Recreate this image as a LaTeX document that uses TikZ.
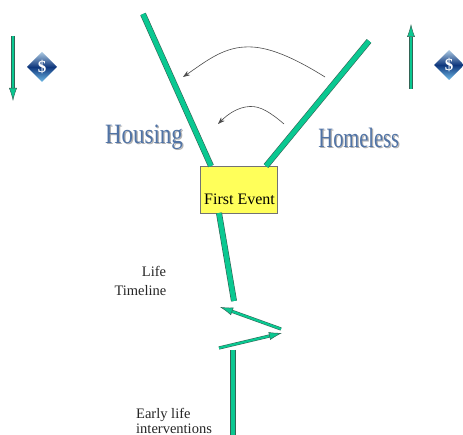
\documentclass[tikz,border=0pt]{standalone}
\usepackage{fontspec}
\setmainfont{Liberation Serif}
\usetikzlibrary{arrows.meta}
\definecolor{barteal}{RGB}{10,200,145}
\definecolor{baredge}{RGB}{50,100,85}
\definecolor{boxyellow}{RGB}{255,255,90}
\definecolor{wordblue}{RGB}{80,115,165}
\definecolor{navy}{RGB}{15,55,125}
\definecolor{skyb}{RGB}{110,185,230}
\definecolor{paleb}{RGB}{170,200,225}
\tikzset{
  x=1pt,y=-1pt,
  bar/.style={draw=baredge,line width=0.6pt,double=barteal,double distance=4.8pt},
  thinbar/.style={draw=baredge,line width=0.5pt,double=barteal,double distance=2.2pt,
    -{Latex[length=13pt,width=8pt,fill=barteal]}},
  curve/.style={draw=black!70,line width=0.6pt,-{Stealth[length=7pt,width=5pt]}},
  caption/.style={font=\fontsize{14.5}{16}\selectfont,text=black!85,inner sep=0pt},
  bigword/.style={font=\fontsize{28}{30}\selectfont,inner sep=0pt},
  eventbox/.style={draw=black!55,fill=boxyellow,line width=0.8pt,minimum width=77pt,minimum height=47pt,inner sep=0pt},
  dollar/.style={font=\bfseries\fontsize{17}{18}\selectfont,text=white,inner sep=0pt}
}
\newcommand{\moneymark}[2]{%
  \shade[top color=paleb,bottom color=skyb,middle color=navy] (#1-15,#2) -- (#1,#2-15) -- (#1+15,#2) -- (#1,#2+15) -- cycle;
}
\begin{document}
\begin{tikzpicture}
\useasboundingbox (0,0) rectangle (463,435);
\clip (0,0) rectangle (463,435);
\fill[white] (0,0) rectangle (463,435);
% bars
\node[eventbox] (event) at (238.5,189.5) {};
\coordinate (hTop) at (143,14);
\coordinate (hBot) at (211,166);
\coordinate (nTop) at (369,41);
\coordinate (nBot) at (266,166);
\coordinate (lTop) at (219,213);
\coordinate (lBot) at (234,301);
\coordinate (bTop) at (233,350);
\coordinate (bBot) at (233,440);
\draw[bar] (hTop) -- (hBot);
\draw[bar] (nTop) -- (nBot);
\draw[bar] (lTop) -- (lBot);
\draw[bar] (bTop) -- (bBot);
\node[inner sep=0pt,font=\fontsize{16}{18}\selectfont] (eventlabel) at (239.5,199) {First Event};
% zigzag
\coordinate (z1a) at (281,329);
\coordinate (z1b) at (220,307);
\coordinate (z2a) at (219,348);
\coordinate (z2b) at (282,333);
\draw[thinbar] (z1a) -- (z1b);
\draw[thinbar] (z2a) -- (z2b);
% side arrows
\coordinate (dA) at (13,36);
\coordinate (dB) at (13,101);
\coordinate (uA) at (411,89);
\coordinate (uB) at (411,24);
\draw[thinbar] (dA) -- (dB);
\draw[thinbar] (uA) -- (uB);
% curved arrows
\coordinate (c1a) at (325,77);
\coordinate (c1b) at (183,77);
\coordinate (c2a) at (284,124);
\coordinate (c2b) at (218,124);
\draw[curve] (c1a) .. controls (285,52) and (262,46) .. (245,47) .. controls (222,48) and (205,62) .. (c1b);
\draw[curve] (c2a) .. controls (270,112) and (260,106) .. (250,106.500) .. controls (238,107) and (228,114) .. (c2b);
% words
\node[bigword,text=black!30,xscale=0.82] (hshadow) at (145.2,138.2) {Housing};
\node[bigword,text=wordblue,xscale=0.82] (housing) at (144,137) {Housing};
\node[bigword,text=black!30,xscale=0.73] (nshadow) at (360,139.2) {Homeless};
\node[bigword,text=wordblue,xscale=0.73] (homeless) at (358.8,138) {Homeless};
% captions
\node[caption] (life) at (154,271) {Life};
\node[caption] (timeline) at (140.5,291) {Timeline};
\node[caption,anchor=west] (early) at (136,415) {Early life};
\node[caption,anchor=west] (interv) at (136,428.5) {interventions};
% money marks
\moneymark{42}{67}
\node[dollar] (d1) at (42,67) {\$};
\moneymark{449}{65}
\node[dollar] (d2) at (449,65) {\$};
\end{tikzpicture}
\end{document}
